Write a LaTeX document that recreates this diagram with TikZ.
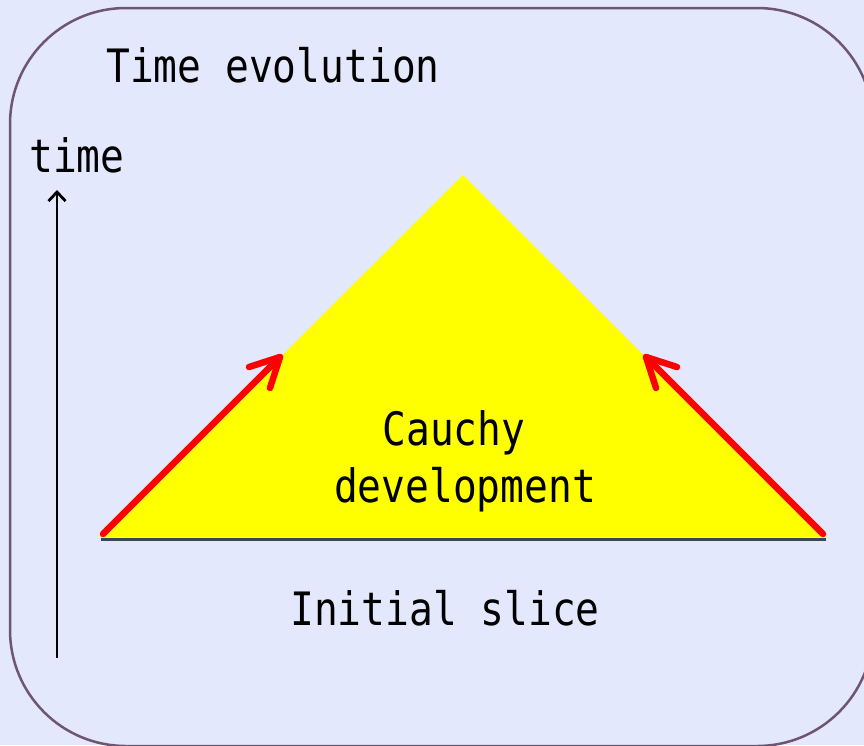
\documentclass[tikz,border=0pt]{standalone}
\usepackage{fontspec}
\setmonofont[FakeStretch=0.86]{DejaVu Sans Mono}
\usetikzlibrary{arrows.meta}
\definecolor{bg}{RGB}{228,232,252}
\definecolor{frame}{RGB}{110,85,115}
\definecolor{base}{RGB}{58,69,86}
\definecolor{yel}{RGB}{255,255,0}
\definecolor{redc}{RGB}{255,0,0}
\begin{document}
\begin{tikzpicture}[x=1pt,y=-1pt,
  lbl/.style={font=\ttfamily\fontsize{46}{50}\selectfont, inner sep=0pt, anchor=base},
  redarrow/.style={redc, line width=6.5pt, line cap=round, line join=round}]
\useasboundingbox (0,0) rectangle (864,745);
\fill[bg] (0,0) rectangle (864,745);
\begin{scope}
  \clip (0,0) rectangle (864,745);
  \draw[frame, line width=2.5pt, rounded corners=116pt] (10,8) rectangle (873,746);
\end{scope}
% triangle
\coordinate (L) at (100,537);
\coordinate (R) at (826,537);
\coordinate (T) at (463,175);
\fill[yel] (L) -- (R) -- (T) -- cycle;
\coordinate (BL) at (101,539);
\coordinate (BR) at (826,539);
\draw[base, line width=3pt] (BL) -- (BR);
% red arrows
\coordinate (LS) at (103,534);
\coordinate (LT) at (280,357);
\coordinate (LB1) at (249,367);
\coordinate (LB2) at (270,388);
\draw[redarrow] (LS) -- (LT);
\draw[redarrow] (LB1) -- (LT) -- (LB2);
\coordinate (RS) at (823,534);
\coordinate (RT) at (646,357);
\coordinate (RB1) at (677,367);
\coordinate (RB2) at (656,388);
\draw[redarrow] (RS) -- (RT);
\draw[redarrow] (RB1) -- (RT) -- (RB2);
% time axis
\coordinate (A0) at (57,658);
\coordinate (A1) at (57,190);
\draw[line width=2.8pt, -{Straight Barb[length=9pt,width=17pt]}] (A0) -- (A1);
% labels
\node[lbl] (title) at (273,82) {Time evolution};
\node[lbl] (time) at (77,172) {time};
\node[lbl] (c1) at (454,445) {Cauchy};
\node[lbl] (c2) at (465,502) {development};
\node[lbl] (init) at (445,625) {Initial slice};
\end{tikzpicture}
\end{document}
